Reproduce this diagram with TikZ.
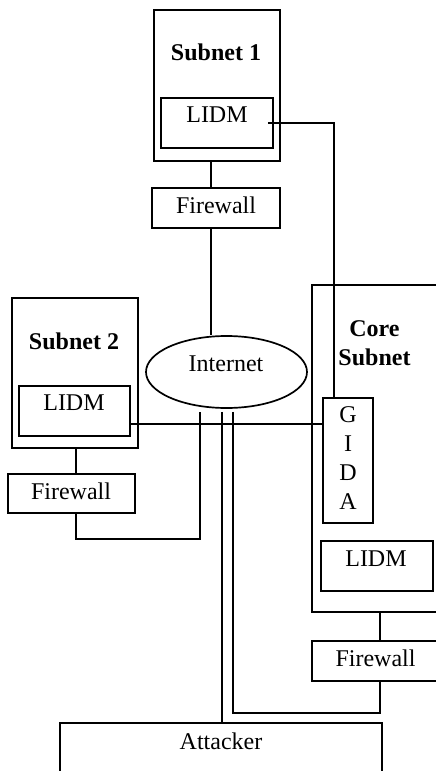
\documentclass[tikz,border=0pt]{standalone}
\usepackage{fontspec}
\setmainfont{Liberation Serif}
\usetikzlibrary{shapes.geometric}
\begin{document}
\begin{tikzpicture}[x=1pt,y=-1pt,
  box/.style={draw, line width=1.7pt, rectangle, inner sep=0pt},
  lbl/.style={anchor=base, inner sep=0pt, font=\fontsize{24}{28}\selectfont},
  ttl/.style={anchor=base, inner sep=0pt, font=\fontsize{24}{28}\selectfont\bfseries},
  wire/.style={line width=1.7pt}]
\useasboundingbox (0,0) rectangle (436,771);
\clip (0,0) rectangle (436,771);

% Subnet 1 with its LIDM and firewall
\node[box, minimum width=126pt, minimum height=151pt] (sub1) at (217,85.5) {};
\node[ttl] (sub1t) at (216,60) {Subnet 1};
\node[box, minimum width=112pt, minimum height=50pt] (lidm1) at (217,123) {};
\node[lbl] (lidm1t) at (217,122) {LIDM};
\node[box, minimum width=128pt, minimum height=40pt] (fw1) at (216,208) {};
\node[lbl] (fw1t) at (216,213) {Firewall};

% Subnet 2 with its LIDM and firewall
\node[box, minimum width=126pt, minimum height=150pt] (sub2) at (75,373) {};
\node[ttl] (sub2t) at (74,349) {Subnet 2};
\node[box, minimum width=111pt, minimum height=50pt] (lidm2) at (74.5,411) {};
\node[lbl] (lidm2t) at (74,410.5) {LIDM};
\node[box, minimum width=127pt, minimum height=39pt] (fw2) at (71.5,493.5) {};
\node[lbl] (fw2t) at (71,499) {Firewall};

% Internet cloud
\node[draw, ellipse, line width=1.7pt, inner sep=0pt,
      minimum width=161pt, minimum height=72pt] (inet) at (226.5,372) {};
\node[lbl] (inett) at (226,371) {Internet};

% Core subnet with GIDA, LIDM and firewall (running past the right edge)
\node[box, minimum width=150pt, minimum height=327pt] (core) at (387,448.5) {};
\node[ttl] (coret1) at (374.5,336) {Core};
\node[ttl] (coret2) at (374.5,365) {Subnet};
\node[box, minimum width=50pt, minimum height=125pt] (gida) at (348,460.5) {};
\node[lbl] (gidaG) at (348,422.7) {G};
\node[lbl] (gidaI) at (348,451.7) {I};
\node[lbl] (gidaD) at (348,480.3) {D};
\node[lbl] (gidaA) at (348,509.3) {A};
\node[box, minimum width=112pt, minimum height=50pt] (lidm3) at (377,566) {};
\node[lbl] (lidm3t) at (376,566) {LIDM};
\node[box, minimum width=126pt, minimum height=40pt] (fw3) at (375,661) {};
\node[lbl] (fw3t) at (375.5,666) {Firewall};

% Attacker (running past the bottom edge)
\node[box, minimum width=322pt, minimum height=77pt] (att) at (221,761.5) {};
\node[lbl] (attt) at (221,749) {Attacker};

% attachment points just below the Internet ellipse
\coordinate (inA) at ([xshift=-26.5pt,yshift=-3pt]inet.south);
\coordinate (inB) at ([xshift=-4.5pt,yshift=-3pt]inet.south);
\coordinate (inC) at ([xshift=6.5pt,yshift=-3pt]inet.south);

% links
\draw[wire] ([xshift=-6pt]sub1.south) -- ([xshift=-5pt]fw1.north);
\draw[wire] ([xshift=-5pt]fw1.south) -- ([xshift=-15.5pt]inet.north);
\draw[wire] ([xshift=-6pt]lidm1.east) -| ([xshift=-14pt]gida.north);
\draw[wire] ([yshift=-13pt]lidm2.east) -- ([yshift=36.5pt]gida.west);
\draw[wire] ([xshift=1pt]sub2.south) -- ([xshift=4.5pt]fw2.north);
\draw[wire] ([xshift=4.5pt]fw2.south) |- ([yshift=-127pt]inA) -- (inA);
\draw[wire] (inB) -- (inB |- att.north);
\draw[wire] (inC) -- ++(0,301) -| ([xshift=5pt]fw3.south);
\draw[wire] ([xshift=-7pt]core.south) -- ([xshift=5pt]fw3.north);
\end{tikzpicture}
\end{document}
